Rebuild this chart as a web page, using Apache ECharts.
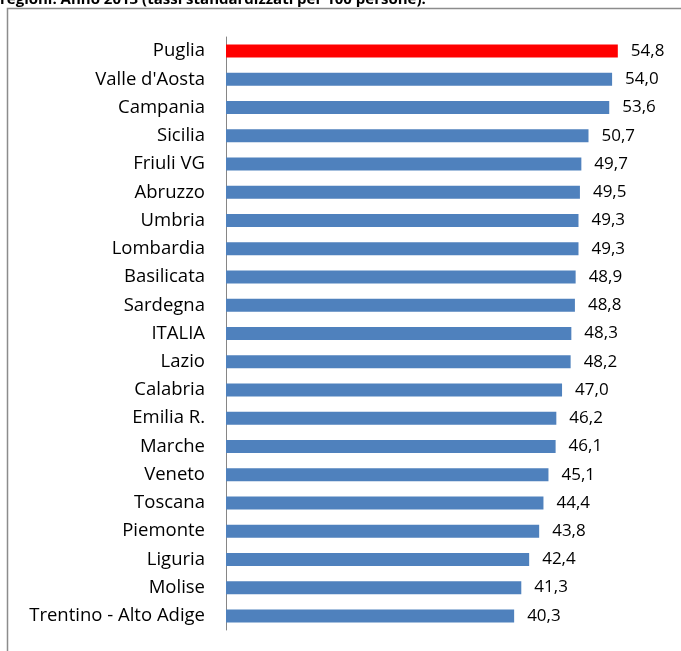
<!DOCTYPE html>
<html>
<head>
<meta charset="utf-8">
<script src="https://cdn.jsdelivr.net/npm/echarts@6/dist/echarts.min.js"></script>
<style>html,body{margin:0;padding:0;background:#fff}#c{width:681px;height:651px}</style>
</head>
<body>
<div id="c"></div>
<script>
const categories = ["Puglia","Valle d'Aosta","Campania","Sicilia","Friuli VG","Abruzzo","Umbria","Lombardia","Basilicata","Sardegna","ITALIA","Lazio","Calabria","Emilia R.","Marche","Veneto","Toscana","Piemonte","Liguria","Molise","Trentino - Alto Adige"];
const values = [54.8,54.0,53.6,50.7,49.7,49.5,49.3,49.3,48.9,48.8,48.3,48.2,47.0,46.2,46.1,45.1,44.4,43.8,42.4,41.3,40.3];
const highlight = "Puglia";
const titleText = "regioni. Anno 2013 (tassi standardizzati per 100 persone).";

const chart = echarts.init(document.getElementById('c'), null, {renderer:'canvas'});
const font = "'Open Sans', sans-serif";
chart.setOption({
  animation:false,
  backgroundColor:'#fff',
  graphic:[
    {type:'text', left:0, top:-8, style:{text:titleText, font:"bold 15px 'Open Sans', sans-serif", fill:'#000'}},
    {type:'polyline', shape:{points:[[7.5,651],[7.5,8.5],[681,8.5]]}, style:{stroke:'#8c8c8c', lineWidth:1.5, fill:null}}
  ],
  grid:{left:226, top:37, bottom:21, right:26, containLabel:false},
  xAxis:{type:'value', min:0, max:60, show:false},
  yAxis:{type:'category', data:categories, inverse:true,
    axisLine:{lineStyle:{color:'#868686', width:1}}, axisTick:{show:false},
    axisLabel:{color:'#000', fontSize:18.5, fontFamily:font, margin:21}},
  series:[{type:'bar', barWidth:13,
    data:values.map((v,i)=>({value:v, itemStyle:{color: categories[i]===highlight ? '#FF0000' : '#4F81BD'}})),
    label:{show:true, position:'right', distance:13, color:'#000', fontSize:17, fontFamily:font,
      formatter:p=>p.value.toFixed(1).replace('.',',')}
  }]
});
</script>
</body>
</html>
